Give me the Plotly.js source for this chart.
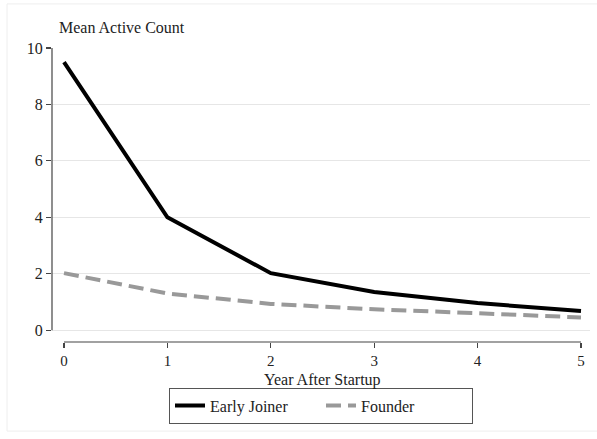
<!DOCTYPE html>
<html>
<head>
<meta charset="utf-8">
<script src="https://cdn.plot.ly/plotly-3.0.1.min.js"></script>
<style>html,body{margin:0;padding:0;background:#fff;}#chart{width:597px;height:439px;}</style>
</head>
<body>
<div id="chart"></div>
<script>
const years = [0, 1, 2, 3, 4, 5];
const earlyJoiner = [9.5, 4.0, 2.02, 1.35, 0.96, 0.68];
const founder = [2.02, 1.3, 0.93, 0.74, 0.6, 0.45];
const yTicks = [0, 2, 4, 6, 8, 10];
const xTicks = [0, 1, 2, 3, 4, 5];
const seriesNames = ["Early Joiner", "Founder"];
const yTitle = "Mean Active Count";
const xTitle = "Year After Startup";

const fam = "Liberation Serif, Times New Roman, serif";
const font = {family: fam, size: 16, color: "#222"};
const tickFont = {family: fam, size: 15, color: "#222"};

const traces = [
  {x: years, y: earlyJoiner, name: seriesNames[0], mode: "lines",
   line: {color: "#000", width: 4}},
  {x: years, y: founder, name: seriesNames[1], mode: "lines",
   line: {color: "#999", width: 4, dash: "15px,7px"}}
];

const layout = {
  width: 597, height: 439,
  margin: {l: 52, r: 7, t: 48, b: 97},
  paper_bgcolor: "#fff", plot_bgcolor: "#fff",
  font: font,
  showlegend: true,
  xaxis: {
    range: [-0.116, 5.087], tickvals: xTicks, ticktext: xTicks.map(String),
    ticks: "outside", ticklen: 5, tickwidth: 1.2, tickcolor: "#444",
    showgrid: false, zeroline: false, showline: false,
    tickfont: tickFont
  },
  yaxis: {
    range: [-0.42, 10], tickvals: yTicks, ticktext: yTicks.map(String),
    ticks: "outside", ticklen: 5, tickwidth: 1.2, tickcolor: "#444",
    showgrid: true, gridcolor: "#e6e6e6", gridwidth: 1,
    zeroline: false, showline: false, tickfont: font
  },
  legend: {
    orientation: "h", x: 0.5, xanchor: "center", y: -0.155, yanchor: "top",
    bordercolor: "#555", borderwidth: 1, bgcolor: "#fff",
    font: font, entrywidth: 106, entrywidthmode: "pixels"
  },
  annotations: [
    {text: yTitle, xref: "paper", yref: "paper", x: 0.01, y: 1.07,
     xanchor: "left", yanchor: "middle", showarrow: false, font: font},
    {text: xTitle, xref: "x", yref: "paper", x: 2.5, y: -0.128,
     xanchor: "center", yanchor: "middle", showarrow: false, font: font}
  ],
  shapes: [
    {type: "line", xref: "paper", yref: "y", x0: 0, x1: 0, y0: 0, y1: 10,
     line: {color: "#444", width: 1.2}},
    {type: "line", xref: "x", yref: "paper", x0: 0, x1: 5, y0: 0, y1: 0,
     line: {color: "#444", width: 1.2}},
    {type: "rect", xref: "paper", yref: "paper", x0: -0.0836, x1: 1.02, y0: -0.303, y1: 1.15,
     line: {color: "#eeeeee", width: 1}, layer: "below"}
  ]
};

Plotly.newPlot("chart", traces, layout, {displayModeBar: false, staticPlot: true});
</script>
</body>
</html>
